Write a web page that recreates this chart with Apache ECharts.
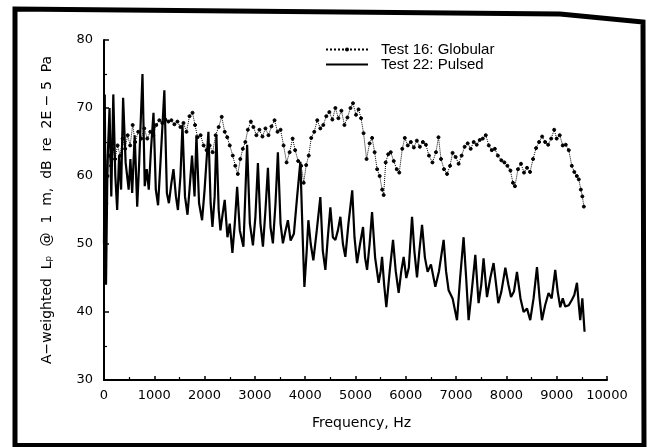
<!DOCTYPE html>
<html>
<head>
<meta charset="utf-8">
<script src="https://cdn.jsdelivr.net/npm/echarts@6/dist/echarts.min.js"></script>
<style>
html,body{margin:0;padding:0;background:#fff;}
#chart{width:649px;height:447px;}
</style>
</head>
<body>
<div id="chart"></div>
<script>
// ---- Data ----
var xTickLabels = ['0','1000','2000','3000','4000','5000','6000','7000','8000','9000','10000'];
var yTickLabels = ['30','40','50','60','70','80'];

var globularFreq = [20,45,70,100,140,180,220,270,320,370,420,470,520,570,620,680,740,800,860,920,980,1040,1100,1160,1220,1280,1340,1400,1460,1520,1580,1640,1700,1760,1810,1860,1920,1980,2040,2100,2160,2220,2280,2340,2400,2450,2500,2560,2610,2660,2710,2760,2810,2860,2920,2970,3030,3090,3150,3210,3270,3330,3390,3450,3510,3570,3630,3690,3750,3800,3860,3920,3970,4020,4070,4120,4180,4240,4300,4360,4420,4480,4540,4600,4660,4720,4780,4840,4900,4950,5010,5060,5110,5160,5220,5280,5330,5380,5430,5480,5530,5560,5600,5650,5700,5760,5820,5870,5930,5980,6040,6100,6160,6220,6280,6340,6400,6460,6530,6600,6650,6700,6760,6820,6880,6930,6990,7050,7110,7170,7230,7290,7350,7410,7470,7530,7590,7650,7710,7770,7830,7900,7960,8020,8080,8130,8170,8230,8290,8350,8410,8470,8530,8590,8650,8710,8770,8830,8890,8950,9000,9060,9120,9180,9240,9300,9350,9400,9440,9480,9510,9540];
var globularDb = [52,56,60,63,61.5,64,62.5,64.5,63,65.5,64,66,64.5,67.5,65,66.5,65.5,67,65.5,66.5,66,67.5,68.2,67.8,68.3,68,68.2,67.6,68,67.2,67.8,66.5,68.8,69.3,67.5,65.7,66,64.5,63.8,64.5,63.5,66,67.2,68.7,66.5,65.7,64.5,63,61.5,60.3,62.5,64,65,66.8,68,67.2,66,66.8,65.8,67,66,67.3,68.2,66.5,66.8,64.5,62,63.5,65.5,63.8,62.2,61.5,59,61.6,63,65.6,66.5,68.2,67,67.5,68.8,69.4,68.3,70,68.5,69.6,67.5,68.6,70,70.7,69,69.8,68.5,66.3,62.5,64.8,65.6,63.5,61,60,58,57.2,62,63.2,63.5,62.2,61,60.5,64,65.6,64.5,65,64.2,65.2,64.3,65,64.6,63,62,63.5,65.7,62.5,61,60.3,61.5,63.4,62.8,61.8,63,64.3,64.8,64,65,64.6,65.3,65.5,66,64.5,63.8,64,63,62.3,62,61.5,60.8,59,58.5,61,61.8,60.5,61.2,60.6,62.5,64.1,65,65.8,65,64.6,65.5,66.8,65.5,66,64.5,64.6,63.8,61.5,60.6,60,59.5,58,57,55.5];

var pulsedFreq = [0,15,40,70,110,145,185,225,262,300,340,380,430,490,525,560,610,660,700,765,810,850,890,935,984,1030,1075,1130,1200,1250,1290,1340,1381,1430,1470,1520,1560,1610,1660,1700,1750,1800,1838,1890,1950,2000,2076,2120,2156,2200,2235,2280,2315,2360,2400,2454,2500,2553,2600,2647,2700,2772,2845,2900,2961,3010,3060,3110,3160,3210,3259,3310,3358,3410,3457,3510,3557,3610,3656,3710,3775,3840,3904,3950,3984,4030,4063,4110,4162,4230,4301,4350,4401,4450,4500,4550,4600,4650,4699,4750,4798,4860,4935,4980,5031,5090,5150,5190,5230,5280,5329,5390,5460,5500,5528,5570,5613,5680,5746,5800,5858,5910,5957,6010,6060,6124,6170,6223,6270,6323,6380,6434,6500,6587,6660,6752,6800,6851,6930,7018,7080,7149,7200,7249,7310,7382,7447,7500,7546,7614,7680,7745,7839,7900,7979,8040,8092,8150,8210,8280,8342,8410,8474,8540,8608,8660,8707,8770,8838,8900,8971,9020,9070,9120,9170,9240,9303,9350,9403,9440,9468,9510,9554];
var pulsedDb = [50,72,44,62,70,57,72,60,55,63,58,71.5,62,58,62.5,57.5,66,55.5,62,75,58.5,61,58,64,69.3,58,55.7,63,72.6,57.5,56,59,61,57,55,60,67.5,57,54.3,58,63,57,66,56,53.5,58,66.5,56,52.5,57,66,55,52,54.5,56.5,51,53,48.7,53,58.4,52,49.6,64.6,53,49.8,54,61.9,53,49.6,55,61.2,52.5,50.1,56,63.5,53,50.1,52,53.5,50.5,51.5,57,62.1,51,43.7,49,53.5,50,47.6,52,56.9,49,46.2,51,55.4,51,50.6,52,54,50,48.1,53,57.9,51,47.2,50,52.5,48,46.2,50,54.7,48,44.3,46,48.1,44,40.7,46,50.6,46,42.8,46,48.1,45,46.5,54,49,45.1,49,52.8,48,45.9,47,43.7,46,50.6,46,43.2,42,38.8,45,51,45,38.8,43,48.4,41.3,44,47.9,42.2,45,47.2,41.3,43,46.5,44,42.2,43,45.9,42,40,40.5,38.8,42,46.6,42,38.8,41,42.8,42,46.2,43,40.7,42,40.8,41,41.8,42.5,44.3,41,38.8,42,37.1];

function pairs(xs, ys){ var out=[]; for (var i=0;i<xs.length;i++) out.push([xs[i], ys[i]]); return out; }

var chart = echarts.init(document.getElementById('chart'), null, {renderer:'canvas'});
var FONT = 'DejaVu Sans';
var option = {
  animation: false,
  backgroundColor: '#ffffff',
  grid: { left: 104, right: 42, top: 40, bottom: 67, containLabel: false },
  legend: {
    orient: 'vertical',
    left: 320, top: 37,
    itemWidth: 42, itemHeight: 5, itemGap: 0,
    textStyle: { fontFamily: 'Liberation Sans', fontSize: 15, color: '#000', padding: [0,0,0,8] },
    data: [
      { name: 'Test 16: Globular' },
      { name: 'Test 22: Pulsed', itemStyle: { opacity: 0 } }
    ]
  },
  xAxis: {
    type: 'value', min: 0, max: 10000, interval: 1000,
    name: 'Frequency, Hz', nameLocation: 'middle', nameGap: 36,
    nameTextStyle: { fontFamily: FONT, fontSize: 14, color: '#000', padding: [0,0,0,12] },
    axisLine: { show: true, lineStyle: { color: '#000', width: 2 } },
    axisTick: { show: true, inside: true, length: 4, lineStyle: { color: '#000', width: 1.5 } },
    minorTick: { show: true, splitNumber: 2, length: 3, lineStyle: { color: '#000', width: 1.2 } },
    splitLine: { show: false },
    axisLabel: { fontFamily: FONT, fontSize: 13, color: '#000', margin: 9,
      formatter: function (v) { return xTickLabels[Math.round(v / 1000)]; } }
  },
  yAxis: {
    type: 'value', min: 30, max: 80, interval: 10,
    name: 'A−weighted  Lₚ  @  1  m,  dB  re  2E − 5  Pa', nameLocation: 'middle', nameGap: 50, nameRotate: 90,
    nameTextStyle: { fontFamily: FONT, fontSize: 14, color: '#000' },
    axisLine: { show: true, lineStyle: { color: '#000', width: 2 } },
    axisTick: { show: true, inside: true, length: 5, lineStyle: { color: '#000', width: 1.5 } },
    minorTick: { show: true, splitNumber: 2, length: 3, lineStyle: { color: '#000', width: 1.2 } },
    splitLine: { show: false },
    axisLabel: { fontFamily: FONT, fontSize: 13, color: '#000', margin: 11,
      formatter: function (v) { return yTickLabels[Math.round((v - 30) / 10)]; } }
  },
  series: [
    {
      name: 'Test 16: Globular', type: 'line',
      data: pairs(globularFreq, globularDb),
      showSymbol: true, symbol: 'circle', symbolSize: 3,
      lineStyle: { color: '#000', width: 1, type: 'dotted' },
      itemStyle: { color: '#000', borderColor: '#000' },
      z: 3
    },
    {
      name: 'Test 22: Pulsed', type: 'line',
      data: pairs(pulsedFreq, pulsedDb),
      showSymbol: false, symbol: 'none',
      lineStyle: { color: '#000', width: 2.2 },
      itemStyle: { color: '#000' },
      z: 2
    }
  ],
  graphic: [
    { type: 'polyline', shape: { points: [[15,447],[15,9],[560,14],[643,22],[644,447]] },
      style: { stroke: '#000', lineWidth: 5, fill: null }, silent: true },
    { type: 'line', shape: { x1: 13, y1: 445, x2: 646, y2: 445 },
      style: { stroke: '#000', lineWidth: 4 }, silent: true }
  ]
};
chart.setOption(option);
</script>
</body>
</html>
